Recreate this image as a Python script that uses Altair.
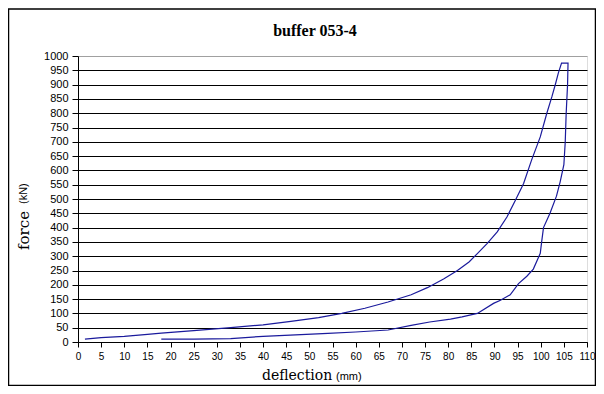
import altair as alt
import pandas as pd

# loading branch (deflection mm, force kN)
load_x = [1.5, 5, 10, 15, 18, 25, 33, 40, 46, 52, 57, 62, 67, 72, 75.5, 79, 82, 84.5,
          86.3, 88.4, 90.6, 92.7, 94.5, 96.3, 98, 99.9, 101.3, 102.4, 103.2, 103.8, 104.5, 105.9]
load_y = [10, 15, 20, 27, 31, 40, 50, 60, 72, 85, 100, 118, 140, 165, 190, 220, 250, 280,
          309, 344, 385, 437, 495, 554, 635, 717, 799, 857, 903, 940, 975, 975]
# unloading branch
unload_x = [105.8, 105.5, 105.3, 105, 104.2, 103.4, 102, 100.6, 100.2, 99.9, 98.4, 97, 95.2,
            93.4, 91.3, 89.8, 86.3, 83, 80.5, 76, 72, 67, 60, 54, 47, 40, 33, 25, 18]
unload_y = [900, 800, 700, 620, 560, 510, 450, 400, 350, 310, 255, 230, 204,
            165, 146, 135, 100, 88, 80, 70, 58, 42, 35, 30, 25, 20, 12, 10, 10]

x_ticks = list(range(0, 111, 5))
y_ticks = list(range(0, 1001, 50))

title_text = "buffer 053-4"
x_title_main, x_title_unit = "deflection", "(mm)"
y_title_main, y_title_unit = "force", "(kN)"

xs = load_x + unload_x
ys = load_y + unload_y
df = pd.DataFrame({"deflection": xs, "force": ys, "order": list(range(len(xs)))})

line = alt.Chart(df).mark_line(color="#1a1a9c", strokeWidth=1.2).encode(
    x=alt.X("deflection:Q",
            scale=alt.Scale(domain=[0, 110], nice=False),
            axis=alt.Axis(values=x_ticks, grid=False, title="", format="d",
                          labelFont="Liberation Sans", labelFontSize=10, labelColor="#000",
                          labelPadding=4, tickSize=5, tickColor="#000", domainColor="#000",
                          labelOverlap=False, labelFlush=False)),
    y=alt.Y("force:Q",
            scale=alt.Scale(domain=[0, 1000], nice=False),
            axis=alt.Axis(values=y_ticks, grid=True, title="", format="d",
                          gridColor=alt.expr("datum.value == 1000 ? '#a0a0a0' : '#000000'"),
                          gridWidth=1,
                          labelFont="Liberation Sans", labelFontSize=11, labelColor="#000",
                          labelPadding=4, tickSize=6, tickColor="#000", domainColor="#000",
                          labelOverlap=False, labelFlush=False)),
    order="order:Q",
)

one = alt.Data(values=[{"a": 1}])

frame = alt.Chart(one).mark_rect(
    fillOpacity=0, stroke="#000", strokeWidth=1.5
).encode(
    x=alt.value(-69.5), x2=alt.value(517.5), y=alt.value(-47), y2=alt.value(329.5)
)

title = alt.Chart(one).mark_text(
    font="Liberation Serif", fontSize=16, fontWeight="bold", color="#000",
    align="center", baseline="alphabetic"
).encode(x=alt.value(237), y=alt.value(-20.5), text=alt.value(title_text))

xt1 = alt.Chart(one).mark_text(
    font="DejaVu Serif", fontSize=14, color="#000", align="left", baseline="alphabetic"
).encode(x=alt.value(184), y=alt.value(324), text=alt.value(x_title_main))

xt2 = alt.Chart(one).mark_text(
    font="Liberation Sans", fontSize=11, color="#000", align="left", baseline="alphabetic"
).encode(x=alt.value(258), y=alt.value(324), text=alt.value(x_title_unit))

yt1 = alt.Chart(one).mark_text(
    font="DejaVu Serif", fontSize=15, color="#000", align="left", baseline="middle", angle=270
).encode(x=alt.value(-54), y=alt.value(194), text=alt.value(y_title_main))

yt2 = alt.Chart(one).mark_text(
    font="Liberation Sans", fontSize=11, color="#000", align="left", baseline="middle", angle=270
).encode(x=alt.value(-54), y=alt.value(148), text=alt.value(y_title_unit))

chart = alt.layer(frame, line, title, xt1, xt2, yt1, yt2).properties(
    width=509, height=286,
    padding={"left": 70, "top": 48, "right": 9, "bottom": 44},
    autosize=alt.AutoSizeParams(type="none"),
).configure_view(stroke="#a0a0a0", strokeWidth=1).configure(background="white")

chart.save("out.html", embed_options={"renderer": "svg", "actions": False})
